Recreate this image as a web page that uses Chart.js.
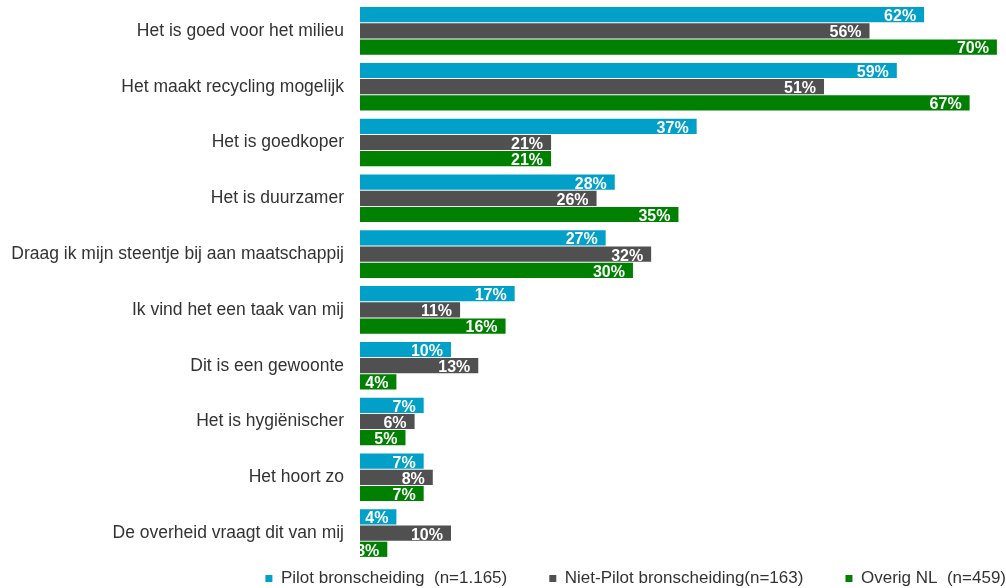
<!DOCTYPE html>
<html>
<head>
<meta charset="utf-8">
<script src="https://cdn.jsdelivr.net/npm/chart.js@4/dist/chart.umd.min.js"></script>
<style>
  html, body { margin: 0; padding: 0; background: #fff; }
  #wrap { width: 1006px; height: 588px; }
</style>
</head>
<body>
<div id="wrap"><canvas id="myChart1"></canvas></div>
<script>
const labels = [
    "Het is goed voor het milieu",
    "Het maakt recycling mogelijk",
    "Het is goedkoper",
    "Het is duurzamer",
    "Draag ik mijn steentje bij aan maatschappij",
    "Ik vind het een taak van mij",
    "Dit is een gewoonte",
    "Het is hygiënischer",
    "Het hoort zo",
    "De overheid vraagt dit van mij",
];
const seriesNames = [
    "Pilot bronscheiding  (n=1.165)",
    "Niet-Pilot bronscheiding(n=163)",
    "Overig NL  (n=459)",
];
const pilot = [62, 59, 37, 28, 27, 17, 10, 7, 7, 4];
const nietPilot = [56, 51, 21, 26, 32, 11, 13, 6, 8, 10];
const overig = [70, 67, 21, 35, 30, 16, 4, 5, 7, 3];
const colors = ["#00a0c8", "#505050", "#008000"];

// white percentage labels at the end of each bar
const barLabels = {
    id: "barLabels",
    afterDatasetsDraw(chart) {
        const ctx = chart.ctx;
        ctx.save();
        ctx.fillStyle = "#fff";
        ctx.font = "bold 16px 'Liberation Sans', Arial, sans-serif";
        ctx.textAlign = "right";
        ctx.textBaseline = "middle";
        chart.data.datasets.forEach((ds, i) => {
            chart.getDatasetMeta(i).data.forEach((bar, j) => {
                ctx.fillText(ds.data[j] + "%", bar.x - 8, bar.y + 2);
            });
        });
        ctx.restore();
    },
};

const ctx = document.getElementById("myChart1").getContext("2d");
const myChart = new Chart(ctx, {
    type: "bar",
    data: {
        labels: labels,
        datasets: [
            { label: seriesNames[0], data: pilot, backgroundColor: colors[0] },
            { label: seriesNames[1], data: nietPilot, backgroundColor: colors[1] },
            { label: seriesNames[2], data: overig, backgroundColor: colors[2] },
        ],
    },
    options: {
        indexAxis: "y",
        responsive: true,
        maintainAspectRatio: false,
        animation: false,
        categoryPercentage: 0.87,
        barPercentage: 0.94,
        layout: { padding: { top: 3, right: -9, left: 0, bottom: -9 } },
        scales: {
            x: { display: false, min: 0, max: 71 },
            y: {
                grid: { display: false, drawTicks: false },
                border: { display: false },
                ticks: {
                    color: "#333",
                    padding: 16,
                    font: { family: "'Liberation Sans', Arial, sans-serif", size: 17.5 },
                },
                afterFit(scale) {
                    scale.width = 360;
                    scale.paddingTop = 0;
                    scale.paddingBottom = 0;
                },
            },
        },
        plugins: {
            tooltip: { enabled: false },
            legend: {
                position: "bottom",
                align: "end",
                labels: {
                    boxWidth: 7,
                    boxHeight: 7,
                    padding: 9,
                    color: "#333",
                    font: { family: "'Liberation Sans', Arial, sans-serif", size: 17 },
                    generateLabels(chart) {
                        const items = Chart.defaults.plugins.legend.labels.generateLabels(chart);
                        items.forEach((it, i) => {
                            it.lineWidth = 0;
                            if (i < items.length - 1) it.text = it.text + "       ";
                        });
                        return items;
                    },
                },
            },
        },
    },
    plugins: [barLabels],
});
</script>
</body>
</html>
